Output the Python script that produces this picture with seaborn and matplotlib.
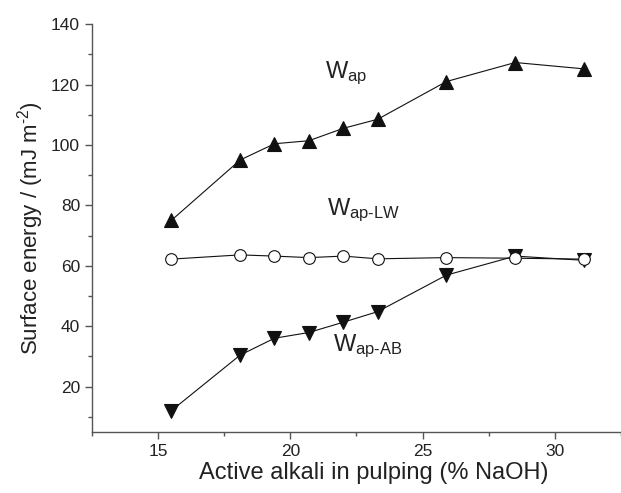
import matplotlib
matplotlib.use("Agg")
import pandas as pd
import seaborn as sns
import matplotlib.pyplot as plt
from matplotlib.ticker import MultipleLocator

# values
alkali = [15.5, 18.1, 19.4, 20.7, 22.0, 23.3, 25.9, 28.5, 31.1]
w_ap = [75.0, 95.0, 100.4, 101.4, 105.5, 108.5, 121.0, 127.3, 125.2]
w_ap_lw = [62.2, 63.6, 63.2, 62.7, 63.2, 62.3, 62.7, 62.5, 62.2]
w_ap_ab = [12.0, 30.4, 36.0, 37.9, 41.3, 44.8, 56.9, 63.2, 61.8]

df = pd.DataFrame({"alkali": alkali, "W_ap": w_ap, "W_ap_LW": w_ap_lw, "W_ap_AB": w_ap_ab})

sns.set_style("ticks")
plt.rcParams['font.family'] = ['Liberation Sans', 'DejaVu Sans']
plt.rcParams['mathtext.fontset'] = 'custom'
plt.rcParams['mathtext.rm'] = 'Liberation Sans'
plt.rcParams['mathtext.it'] = 'Liberation Sans'

fig = plt.figure(figsize=(6.21, 4.93), dpi=100)
ax = fig.add_axes([0.148, 0.124, 0.852, 0.827])

txt = "#222222"
line_kw = dict(color="#111111", linewidth=0.8, markersize=9.5, markeredgewidth=0.8)

# W_ap (up triangles)
sns.lineplot(data=df, x="alkali", y="W_ap", marker="^", markerfacecolor="#111111",
             markeredgecolor="#111111", ax=ax, **line_kw)
# W_ap-AB (down triangles)
sns.lineplot(data=df, x="alkali", y="W_ap_AB", marker="v", markerfacecolor="#111111",
             markeredgecolor="#111111", ax=ax, **line_kw)
# W_ap-LW (open circles), drawn last so it sits on top
sns.lineplot(data=df, x="alkali", y="W_ap_LW", marker="o", markerfacecolor="white",
             markeredgecolor="#111111", ax=ax, color="#111111", linewidth=0.8,
             markersize=8.4, markeredgewidth=0.8)

ax.set_xlim(12.5, 32.5)
ax.set_ylim(5, 140)
ax.xaxis.set_major_locator(MultipleLocator(5))
ax.xaxis.set_minor_locator(MultipleLocator(2.5))
ax.yaxis.set_major_locator(MultipleLocator(20))
ax.yaxis.set_minor_locator(MultipleLocator(10))
ax.set_yticks([20, 40, 60, 80, 100, 120, 140])

for side in ["top", "right"]:
    ax.spines[side].set_visible(False)
for side in ["left", "bottom"]:
    ax.spines[side].set_color("#555555")
    ax.spines[side].set_linewidth(1.0)

ax.tick_params(which="major", length=5, width=1.0, color="#555555", labelsize=12.5, labelcolor=txt)
ax.tick_params(which="minor", length=3, width=1.0, color="#555555")

ax.set_xlabel("Active alkali in pulping (% NaOH)", fontsize=17, color=txt)
ax.xaxis.set_label_coords(0.533, -0.075)
ax.set_ylabel(r"Surface energy / (mJ m$^{\mathregular{\text{-}2}}$)", fontsize=16, color=txt, labelpad=4)

ax.text(21.3, 123.8, r"W$_{\mathregular{ap}}$", fontsize=17, color=txt, va="center")
ax.text(21.4, 78.4, r"W$_{\mathregular{ap\text{-}LW}}$", fontsize=17, color=txt, va="center")
ax.text(21.6, 33.2, r"W$_{\mathregular{ap\text{-}AB}}$", fontsize=17, color=txt, va="center")

fig.savefig("out.png", dpi=100)
